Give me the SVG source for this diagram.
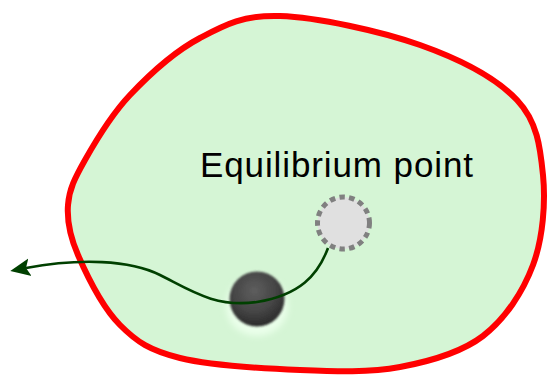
<svg xmlns="http://www.w3.org/2000/svg" width="550" height="385" viewBox="0 0 550 385">
  <style>
    .region { fill: #d5f5d5; stroke: #ff0000; stroke-width: 6; stroke-linejoin: round; }
    .label { font-family: "Liberation Sans", Arial, sans-serif; font-size: 35px; fill: #000000; }
    .eq { fill: #e0e0e0; stroke: #808080; stroke-width: 5; stroke-dasharray: 5.5 4.3; }
    .traj { fill: none; stroke: #004000; stroke-width: 2.6; }
  </style>
  <defs>
    <radialGradient id="ballGrad" cx="0.45" cy="0.35" r="0.65">
      <stop offset="0" stop-color="#5e5e5e"/>
      <stop offset="0.6" stop-color="#454545"/>
      <stop offset="1" stop-color="#2a2a2a"/>
    </radialGradient>
    <filter id="glow" x="-50%" y="-50%" width="200%" height="200%">
      <feGaussianBlur stdDeviation="3"/>
    </filter>
    <filter id="soft" x="-20%" y="-20%" width="140%" height="140%">
      <feGaussianBlur stdDeviation="0.8"/>
    </filter>
    <marker id="arrow" markerUnits="userSpaceOnUse" markerWidth="24" markerHeight="22" viewBox="0 -11 24 22" refX="4" refY="0" orient="auto">
      <path d="M0,-9 L20,0 L0,9 L4,0 z" fill="#004000"/>
    </marker>
  </defs>

  <g id="region">
    <path class="region" d="M280,16 C316.7,17.2 380.5,31 420,45 C459.5,59 496.5,78.3 517,100 C537.5,121.7 540.3,147.5 543,175 C545.7,202.5 543,238.2 533,265 C523,291.8 505.2,319 483,336 C460.8,353 430.5,361.3 400,367 C369.5,372.7 336.7,371.5 300,370 C263.3,368.5 210,365.5 180,358 C150,350.5 137,342.2 120,325 C103,307.8 86.7,275 78,255 C69.3,235 66.8,220.8 68,205 C69.2,189.2 74.7,178.3 85,160 C95.3,141.7 110.8,115.3 130,95 C149.2,74.7 175,51.2 200,38 C225,24.8 243.3,14.8 280,16 Z"/>
  </g>

  <g id="label">
    <text class="label" x="200" y="177" textLength="273" lengthAdjust="spacing">Equilibrium point</text>
  </g>

  <g id="equilibrium">
    <circle class="eq" cx="343.5" cy="223" r="26"/>
  </g>

  <g id="ball">
    <ellipse cx="257" cy="306" rx="31" ry="30" fill="#eaffea" filter="url(#glow)"/>
    <circle cx="257" cy="299" r="27.5" fill="url(#ballGrad)" filter="url(#soft)"/>
  </g>

  <g id="connectors">
    <path class="traj" d="M328,248 C318,275 300,295 257,302 C215,308 190,290 160,275 C130,260 80,258 26,268" marker-end="url(#arrow)"/>
  </g>
</svg>
